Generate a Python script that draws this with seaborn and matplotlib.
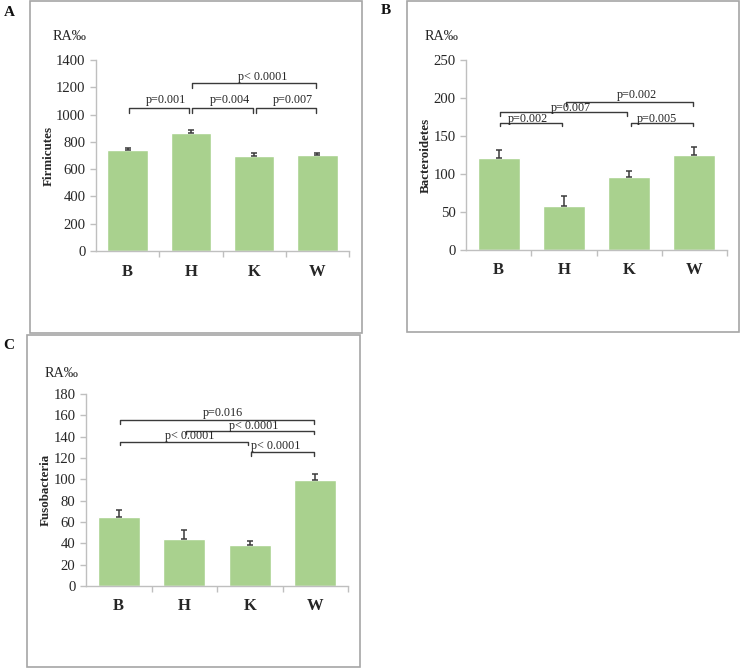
import numpy as np
import pandas as pd
import matplotlib
matplotlib.use("Agg")
import matplotlib.pyplot as plt
from matplotlib.patches import Rectangle
import seaborn as sns

# ---------------- data ----------------
groups = ["B", "H", "K", "W"]

firmicutes = [740, 865, 700, 703]
firmicutes_err = [15, 20, 20, 12]

bacteroidetes = [120.6, 58.5, 96.5, 124.6]
bacteroidetes_err = [11, 13, 8, 10.5]

fusobacteria = [65, 44.4, 38.4, 99.4]
fusobacteria_err = [6, 7.8, 3.5, 6]

y_titles = ["Firmicutes", "Bacteroidetes", "Fusobacteria"]
y_limits = [1400, 250, 180]
y_steps = [200, 50, 20]
panel_letters = ["A", "B", "C"]

# significance annotations: (i, j, bracket level, text, text x, text y)
sig_A = [(0, 1, 1046, "p=0.001", 0.607, 1107),
         (1, 2, 1046, "p=0.004", 1.619, 1107),
         (2, 3, 1046, "p=0.007", 2.615, 1107),
         (1, 3, 1229, "p< 0.0001", 2.14, 1276)]
sig_B = [(0, 1, 167.5, "p=0.002", 0.45, 172.4),
         (0, 2, 181.0, "p=0.007", 1.11, 186.8),
         (1, 3, 194.7, "p=0.002", 2.117, 204.0),
         (2, 3, 167.5, "p=0.005", 2.423, 172.4)]
sig_C = [(0, 3, 155.6, "p=0.016", 1.59, 162.5),
         (1, 3, 145.6, "p< 0.0001", 2.065, 150.3),
         (0, 2, 135.3, "p< 0.0001", 1.088, 140.6),
         (2, 3, 125.3, "p< 0.0001", 2.40, 131.5)]

# ---------------- style ----------------
sns.set_style("white")
plt.rcParams["font.family"] = ["Liberation Serif", "DejaVu Serif"]

W, H = 740, 668
fig = plt.figure(figsize=(W / 100, H / 100), dpi=100)

BAR = "#a9d18e"
AXC = "#bfbfbf"
FRAME = "#a6a6a6"
TXT = "#262626"
LINEC = "#3a3a3a"


def px_rect(x0, y0, x1, y1):
    return [x0 / W, 1 - y1 / H, (x1 - x0) / W, (y1 - y0) / H]


def frame(x0, y0, x1, y1):
    fig.add_artist(Rectangle((x0 / W, 1 - y1 / H), (x1 - x0) / W, (y1 - y0) / H,
                             transform=fig.transFigure, fill=False,
                             edgecolor=FRAME, lw=1.2))


frame(30, 1, 362, 333)
frame(406.5, 1, 739, 332)
frame(27, 335, 359.5, 666.5)

axes_rects = [px_rect(96, 60, 349, 251),
              px_rect(466, 60, 727, 250),
              px_rect(86, 394, 348, 586)]
values = [firmicutes, bacteroidetes, fusobacteria]
errors = [firmicutes_err, bacteroidetes_err, fusobacteria_err]
sigs = [sig_A, sig_B, sig_C]
label_x = [-41 / 253, -34 / 261, -34 / 262]
drops_px = [4.4, 3.5, 3.6]
letter_pos = [(9, 12), (386, 11), (9, 345)]
ra_pos = [(70, 36), (442, 37), (62, 373)]

for k in range(3):
    ax = fig.add_axes(axes_rects[k])
    df = pd.DataFrame({"group": groups, "value": values[k]})
    sns.barplot(data=df, x="group", y="value", color=BAR, saturation=1,
                width=0.64, ax=ax, errorbar=None)
    xs = np.arange(len(groups))
    ax.errorbar(xs, values[k], yerr=[np.zeros(len(groups)), errors[k]],
                fmt="none", ecolor=LINEC, elinewidth=1.1, capsize=2.5,
                capthick=1.1, zorder=5)
    ymax = y_limits[k]
    ax.set_xlim(-0.5, 3.5)
    ax.set_ylim(0, ymax)
    ax.set_yticks(np.arange(0, ymax + 1, y_steps[k]))
    ax.tick_params(axis="y", direction="out", length=4, width=1, color=AXC,
                   labelsize=10.6, labelcolor=TXT, pad=3.5, left=True)
    ax.set_xticks(xs)
    ax.set_xticklabels(groups, fontsize=12, fontweight="bold", color=TXT)
    ax.tick_params(axis="x", length=0, pad=9)
    ax.set_xticks([0.5, 1.5, 2.5, 3.5], minor=True)
    ax.tick_params(axis="x", which="minor", direction="out", length=4,
                   width=1, color=AXC, bottom=True)
    for s in ["top", "right"]:
        ax.spines[s].set_visible(False)
    for s in ["left", "bottom"]:
        ax.spines[s].set_color(AXC)
        ax.spines[s].set_linewidth(1)
    ax.set_xlabel("")
    ax.set_ylabel(y_titles[k], fontsize=9.4, fontweight="bold", color=TXT)
    ax.yaxis.set_label_coords(label_x[k], 0.5)

    # brackets
    axh_px = (axes_rects[k][3]) * H
    drop = drops_px[k] * ymax / axh_px
    for (i, j, lvl, txt, tx, ty) in sigs[k]:
        x1 = i + 0.025
        x2 = j - 0.025
        ax.plot([x1, x1, x2, x2], [lvl - drop, lvl, lvl, lvl - drop],
                color=LINEC, lw=1.0, clip_on=False, zorder=6)
        ax.text(tx, ty, txt, ha="center", va="center", fontsize=8.7,
                color=TXT, zorder=7, clip_on=False)

    lx, ly = letter_pos[k]
    fig.text(lx / W, 1 - ly / H, panel_letters[k], ha="center", va="center",
             fontsize=11, fontweight="bold", color="#111111")
    rx, ry = ra_pos[k]
    fig.text(rx / W, 1 - ry / H, "RA‰", ha="center", va="center",
             fontsize=10.3, color=TXT)

fig.savefig("out.png", dpi=100)
